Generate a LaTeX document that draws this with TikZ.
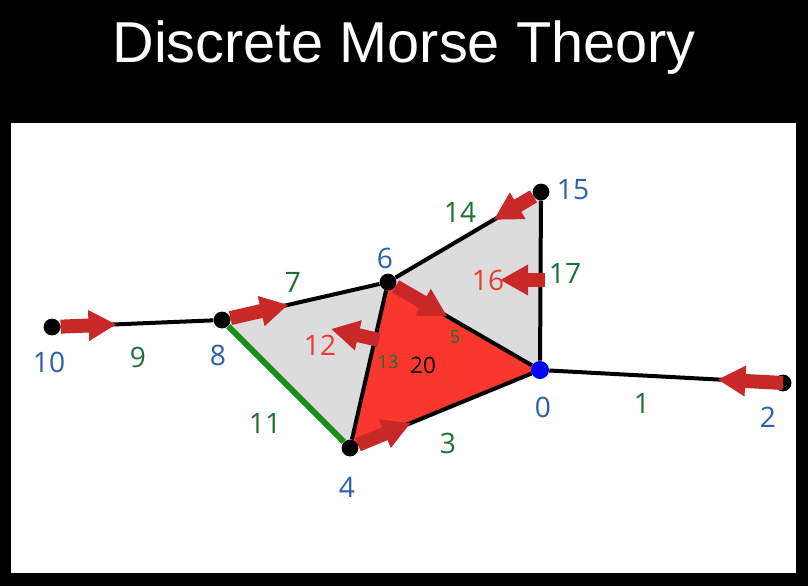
\documentclass[tikz,border=0pt]{standalone}
\usepackage{fontspec}
\setmainfont{Liberation Sans}
\newfontfamily\handfont{Open Sans}
\usetikzlibrary{arrows.meta,calc,backgrounds}

\definecolor{vblue}{RGB}{45,95,175}
\definecolor{egreen}{RGB}{30,110,55}
\definecolor{flabel}{RGB}{235,60,50}
\definecolor{arrred}{RGB}{200,40,40}
\definecolor{facered}{RGB}{250,55,45}
\definecolor{facegray}{RGB}{220,220,220}
\definecolor{lgreen}{RGB}{25,140,25}

\begin{document}
\begin{tikzpicture}[
  x=0.025cm, y=-0.025cm,
  vtx/.style={circle, fill=black, inner sep=0pt, minimum size=0.42cm},
  edge/.style={line width=1mm, draw=black},
  arr/.style={-{Triangle[length=0.7cm, width=0.72cm]}, line width=0.35cm, draw=arrred},
  lab/.style={font=\handfont\fontsize{20}{24}\selectfont, inner sep=0pt},
  vlab/.style={lab, text=vblue},
  elab/.style={lab, text=egreen},
  flab/.style={lab, text=flabel},
  tiny/.style={font=\handfont\fontsize{13}{15}\selectfont, inner sep=0pt}
]

\node[vtx] (v10) at (52,327) {};
\node[vtx] (v8) at (222,320) {};
\node[vtx] (v6) at (388,282) {};
\node[vtx] (v15) at (541,192) {};
\node[vtx, fill=blue, minimum size=0.45cm] (v0) at (540,370) {};
\node[vtx] (v4) at (350,448) {};
\node[vtx] (v2) at (783,383) {};

\node[font=\fontsize{41}{48}\selectfont, text=white, anchor=base] (title) at (404,62) {Discrete Morse Theory};

\begin{scope}[on background layer]
\fill[black] (0,0) rectangle (808,586);
\fill[white] (11,123) rectangle (796,573);
\fill[facegray] (v8.center) -- (v6.center) -- (v4.center) -- cycle;
\fill[facegray] (v6.center) -- (v15.center) -- (v0.center) -- cycle;
\fill[facered] (v6.center) -- (v0.center) -- (v4.center) -- cycle;
\draw[edge] (v10) -- (v8);
\draw[edge] (v8) -- (v6);
\draw[edge] (v6) -- (v15);
\draw[edge] (v15) -- (v0);
\draw[edge] (v0) -- (v2);
\draw[edge] (v6) -- (v4);
\draw[edge] (v6) -- (v0);
\draw[edge] (v4) -- (v0);
\draw[edge, draw=lgreen, line width=1.5mm] (v8) -- (v4);
\end{scope}

\coordinate (e17) at (545,280);
\coordinate (f16) at (500,280);
\coordinate (e13) at (379,340);
\coordinate (f12) at (331,329);

\draw[arr] (v10) -- ($(v10)!0.38!(v8)$);
\draw[arr] (v8) -- ($(v8)!0.40!(v6)$);
\draw[arr] (v15) -- ($(v15)!0.31!(v6)$);
\draw[arr] (v6) -- ($(v6)!0.39!(v0)$);
\draw[arr] (v4) -- ($(v4)!0.32!(v0)$);
\draw[arr] (v2.center) -- ($(v2)!0.27!(v0)$);
\draw[arr] (e17) -- (f16);
\draw[arr] (e13) -- (f12);

\node[vlab] (l10) at (49,362) {10};
\node[vlab] (l8) at (218,355) {8};
\node[vlab] (l6) at (385,258) {6};
\node[vlab] (l15) at (573,190) {15};
\node[vlab] (l0) at (543,407) {0};
\node[vlab] (l4) at (347,487) {4};
\node[vlab] (l2) at (768,417) {2};

\node[elab] (l9) at (138,357) {9};
\node[elab] (l7) at (293,282) {7};
\node[elab] (l14) at (460,212) {14};
\node[elab] (l17) at (565,273) {17};
\node[elab] (l11) at (265,423) {11};
\node[elab] (l3) at (448,443) {3};
\node[elab] (l1) at (642,403) {1};
\node[tiny, text=egreen] (l5) at (455,337) {5};
\node[tiny, text=egreen] (l13) at (388,362) {13};

\node[flab] (l12) at (320,345) {12};
\node[flab] (l16) at (488,280) {16};
\node[tiny, font=\handfont\fontsize{16}{18}\selectfont] (l20) at (423,365) {20};

\end{tikzpicture}
\end{document}
